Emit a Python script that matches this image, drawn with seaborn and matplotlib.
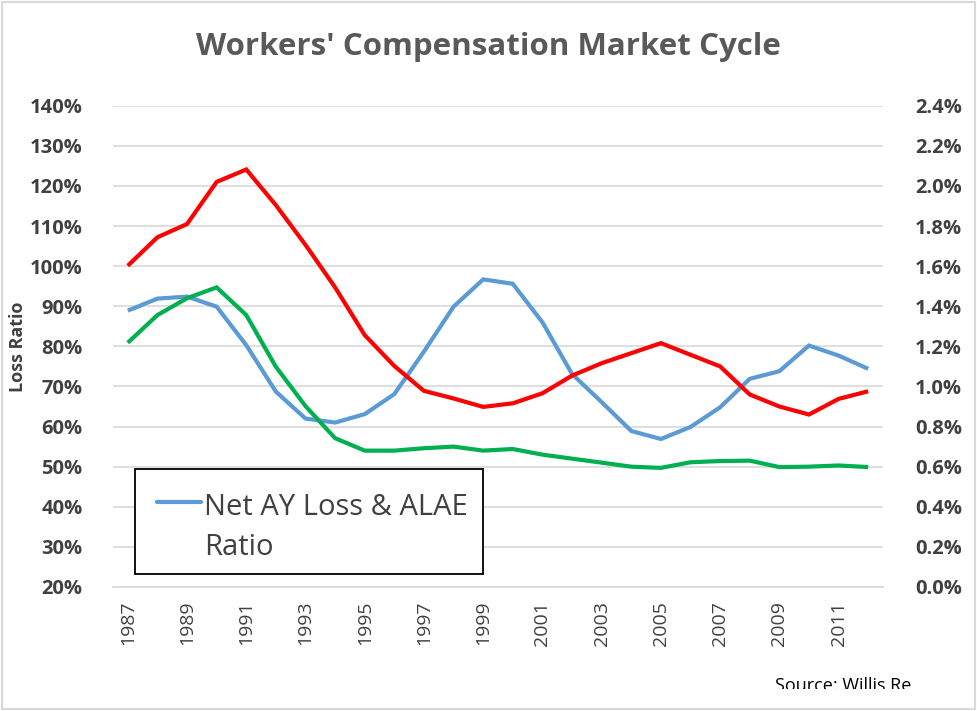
import matplotlib
matplotlib.use("Agg")
import matplotlib.pyplot as plt
import seaborn as sns
import pandas as pd
from matplotlib.ticker import FuncFormatter, MultipleLocator, FixedLocator
from matplotlib.lines import Line2D
from matplotlib.patches import Rectangle
from matplotlib.transforms import Bbox, TransformedBbox

years = list(range(1987, 2013))
net_ay_loss_alae = [88.9, 91.9, 92.4, 89.9, 80.3, 68.7, 62.0, 61.0, 63.1, 68.1, 78.7, 89.9, 96.7,
                    95.6, 86.0, 73.1, 66.1, 58.9, 56.9, 59.9, 64.8, 71.9, 73.8, 80.2, 77.7, 74.4]
red_series = [100.1, 107.2, 110.5, 121.0, 124.1, 115.2, 105.3, 94.7, 82.8, 75.1, 68.9, 67.0, 64.9,
              65.8, 68.3, 72.7, 75.8, 78.3, 80.8, 77.9, 75.0, 68.0, 65.0, 63.0, 66.9, 68.8]
green_series = [80.9, 87.8, 92.0, 94.7, 87.8, 74.9, 65.1, 57.1, 54.0, 54.0, 54.6, 55.0, 54.0,
                54.4, 53.0, 52.0, 51.0, 50.0, 49.7, 51.1, 51.4, 51.5, 49.9, 50.0, 50.3, 49.9]
series_names = ["Net AY Loss & ALAE Ratio", "Series 2", "Series 3"]
colors = ["#5B9BD5", "#FF0000", "#00B050"]

df = pd.DataFrame({
    "Year": years * 3,
    "Value": net_ay_loss_alae + red_series + green_series,
    "Series": [series_names[0]] * len(years) + [series_names[1]] * len(years) + [series_names[2]] * len(years),
})

sns.set_theme(style="white")
plt.rcParams['font.family'] = ['Open Sans', 'DejaVu Sans']

W, H = 977, 711
def fx(px):
    return px / W
def fy(py):
    return 1 - py / H

fig = plt.figure(figsize=(9.77, 7.11), dpi=100)
ax = fig.add_axes([fx(113), fy(587), (883 - 113) / W, (587 - 105.7) / H])

sns.lineplot(data=df, x="Year", y="Value", hue="Series", palette=colors,
             hue_order=series_names, linewidth=3.0, ax=ax, legend=False)
for ln in ax.lines:
    ln.set_solid_joinstyle("miter")
    ln.set_solid_capstyle("butt")

ax.set_xlim(1986.5, 2012.5)
ax.set_ylim(20, 140)
ax.yaxis.set_major_locator(MultipleLocator(10))
ax.yaxis.set_major_formatter(FuncFormatter(lambda v, p: f"{v:.0f}%"))
ax.grid(axis="y", color="#D9D9D9", linewidth=1.2)
ax.set_axisbelow(True)

ax.xaxis.set_major_locator(FixedLocator(list(range(1987, 2013, 2))))
ax.xaxis.set_minor_locator(FixedLocator([y + 0.5 for y in range(1986, 2013)]))
ax.set_xticklabels([str(y) for y in range(1987, 2013, 2)], rotation=90,
                   fontsize=14, color="#404040")
ax.tick_params(axis="x", which="major", length=0, pad=10)
ax.tick_params(axis="x", which="minor", length=7, width=1.2, color="#D9D9D9", direction="out")
ax.tick_params(axis="y", length=0, pad=22, labelsize=14.5, labelcolor="#404040")
for lbl in ax.get_yticklabels():
    lbl.set_fontweight("bold")

for s in ["top", "right", "left"]:
    ax.spines[s].set_visible(False)
ax.spines["bottom"].set_color("#D9D9D9")
ax.spines["bottom"].set_linewidth(1.2)

ax.set_xlabel("")
ax.set_ylabel("Loss Ratio", fontsize=13, fontweight="bold", color="#404040", labelpad=2)

ax2 = ax.twinx()
ax2.set_ylim(0.0, 2.4)
ax2.yaxis.set_major_locator(MultipleLocator(0.2))
ax2.yaxis.set_major_formatter(FuncFormatter(lambda v, p: f"{v:.1f}%"))
ax2.tick_params(axis="y", length=0, pad=23, labelsize=14.5, labelcolor="#404040")
for lbl in ax2.get_yticklabels():
    lbl.set_fontweight("bold")
for s in ["top", "right", "left", "bottom"]:
    ax2.spines[s].set_visible(False)

# Legend box (only the first entry is visible, as in the original)
fig.add_artist(Rectangle((fx(135), fy(574)), (483 - 135) / W, (574 - 469.3) / H,
                         transform=fig.transFigure, facecolor="white", edgecolor="black",
                         linewidth=1.3, zorder=10))
fig.add_artist(Line2D([fx(157), fx(200.5)], [fy(501.7), fy(501.7)], transform=fig.transFigure,
                      color=colors[0], linewidth=3.0, solid_capstyle="round", zorder=11))
fig.text(fx(204), fy(515), "Net AY Loss & ALAE", ha="left", va="baseline", fontsize=21,
         color="#404040", zorder=11)
fig.text(fx(204), fy(555), "Ratio", ha="left", va="baseline", fontsize=21,
         color="#404040", zorder=11)

fig.text(0.5, fy(46.6), "Workers' Compensation Market Cycle", ha="center", va="center",
         fontsize=22.5, fontweight="bold", color="#595959")
src = fig.text(fx(775), fy(691), "Source: Willis Re", ha="left", va="baseline",
               fontsize=13, color="black")
src.set_clip_on(True)
src.set_clip_box(TransformedBbox(Bbox([[0, fy(689)], [1, 1]]), fig.transFigure))

fig.patches.append(Rectangle((0.002, 0.003), 0.996, 0.994, transform=fig.transFigure,
                             fill=False, edgecolor="#D9D9D9", linewidth=1.5))

fig.savefig("out.png", dpi=100, facecolor="white")
